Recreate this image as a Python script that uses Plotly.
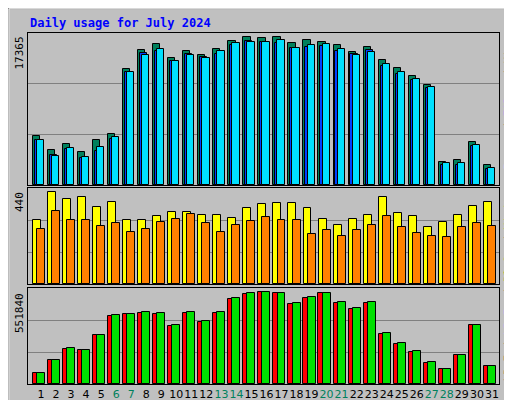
import plotly.graph_objects as go

days = list(range(1, 32))
day_labels = [str(d) for d in days]
weekend = [6, 7, 13, 14, 20, 21, 27, 28]

hits = [5648, 4045, 4732, 3816, 5190, 5877, 13203, 15378, 16065, 14463, 15264, 14806, 15493, 16409, 16867, 16752,
        16867, 16180, 16523, 16294, 15951, 15150, 15722, 14234, 13318, 12402, 11372, 2671, 2900, 4961, 2328]
files = [5190, 3358, 4274, 3244, 4388, 5533, 12860, 14806, 15493, 14119, 14806, 14463, 15264, 16180, 16294, 16294,
         16523, 15607, 15951, 16065, 15493, 14806, 15150, 13776, 12860, 12059, 11143, 2557, 2557, 4617, 1984]
pages = [5190, 3473, 4159, 3129, 3930, 5304, 12860, 15035, 15264, 14119, 14921, 14577, 14921, 15951, 16409, 16294,
         16180, 15607, 15722, 15836, 15264, 14921, 15378, 13547, 12631, 11944, 11028, 2328, 2328, 4503, 1870]
visits = [292, 420, 388, 397, 351, 374, 292, 292, 310, 329, 329, 315, 315, 301, 347, 365,
          370, 370, 347, 296, 269, 296, 315, 397, 324, 310, 260, 283, 315, 356, 374]
sites = [251, 333, 292, 292, 264, 278, 237, 251, 283, 296, 319, 278, 237, 269, 287, 306,
         292, 292, 228, 246, 219, 246, 269, 310, 260, 232, 219, 214, 260, 278, 264]
kb_f = [65603, 140854, 198739, 192950, 279778, 389759, 401336, 407125, 401336, 331874, 407125, 355028, 407125,
        488164, 517106, 528683, 522895, 459221, 493952, 522895, 465010, 430279, 465010, 285566, 227681, 181373,
        123488, 88757, 164008, 337663, 106123]
kb_out = [65603, 140854, 204527, 192950, 279778, 395547, 401336, 412913, 407125, 337663, 412913, 360816, 412913,
          493952, 522895, 528683, 522895, 465010, 499741, 522895, 470798, 436067, 470798, 291354, 233469, 187161,
          129276, 88757, 164008, 337663, 106123]
max_top, max_mid, max_bot = 17365, 440, 551840

W = 0.48
fig = go.Figure()
def bars(y, off, color, ax, w=W):
    fig.add_trace(go.Bar(x=[d + off for d in days], y=y, width=w, marker=dict(color=color, line=dict(color='black', width=1)),
                         xaxis='x' + ax, yaxis='y' + ax, showlegend=False))

bars(hits, -0.30, '#00805C', '')
bars(pages, -0.17, '#0040FF', '')
bars(files, -0.03, '#00E0FF', '')
bars(visits, -0.27, '#FFFF00', '2', 0.53)
bars(sites, 0.0, '#FF8000', '2', 0.53)
bars(kb_f, -0.30, '#FF0000', '3')
bars(kb_out, 0.0, '#00E000', '3', 0.53)

xr = [0.135, 31.47]
ticktext = [f'<span style="color:#00805C">{l}</span>' if d in weekend else l for d, l in zip(days, day_labels)]
def yax(dom, m):
    return dict(domain=dom, range=[0, m], tickvals=[m / 3, 2 * m / 3], showticklabels=False, ticks='',
                showgrid=True, gridcolor='#808080', gridwidth=1, zeroline=False,
                showline=True, linecolor='black', linewidth=1, mirror=True, fixedrange=True)
def xax(anchor, show):
    return dict(domain=[20 / 512, 491 / 512], range=xr, anchor=anchor, showgrid=False, zeroline=False,
                showline=True, linecolor='black', linewidth=1, mirror=True, tickvals=days, ticktext=ticktext,
                showticklabels=show, ticks='', tickangle=0, automargin=False,
                tickfont=dict(size=11, color='black', family='DejaVu Sans'))

fig.update_layout(
    width=512, height=400, margin=dict(l=0, r=0, t=0, b=0, autoexpand=False),
    paper_bgcolor='#C0C0C0', plot_bgcolor='#C0C0C0', barmode='overlay', bargap=0,
    font=dict(family='DejaVu Sans Mono', size=11),
    xaxis=xax('y', False), yaxis=yax([1 - 177 / 400, 1 - 25 / 400], max_top),
    xaxis2=xax('y2', False), yaxis2=yax([1 - 276 / 400, 1 - 180 / 400], max_mid),
    xaxis3=xax('y3', True), yaxis3=yax([1 - 376 / 400, 1 - 280 / 400], max_bot),
)

P = dict(xref='paper', yref='paper', showarrow=False)
ann = [dict(text='<b>Daily usage for July 2024</b>', x=20 / 512, y=1 - 15 / 400, xanchor='left', yanchor='middle',
            font=dict(color='#0000FF', size=12, family='DejaVu Sans Mono'), **P)]
for lbl, top in [(str(max_top), 27), (str(max_mid), 182), (str(max_bot), 283)]:
    ann.append(dict(text=lbl, textangle=-90, x=11 / 512, y=1 - top / 400, xanchor='center', yanchor='top',
                    font=dict(color='black', size=11), **P))
ann.append(dict(text='<span style="color:#00C0FF">Pages</span> / <span style="color:#0040FF">Files</span> / '
                     '<span style="color:#00805C">Hits</span>', textangle=-90, x=500 / 512, y=1 - 27 / 400,
                xanchor='center', yanchor='top', font=dict(color='black', size=11), **P))
ann.append(dict(text='<span style="color:#FF8000">Sites</span> / <span style="color:#FFFF00">Visits</span>',
                textangle=-90, x=500 / 512, y=1 - 180 / 400, xanchor='center', yanchor='top',
                font=dict(color='black', size=11), **P))
ann.append(dict(text='<span style="color:#FF0000">kB F</span> / <span style="color:#0080FF">kB In</span> / '
                     '<span style="color:#00E000">kB Out</span>', textangle=-90, x=500 / 512, y=1 - 376 / 400,
                xanchor='center', yanchor='bottom', font=dict(color='black', size=11), **P))
fig.update_layout(annotations=ann)
fig.add_shape(type='rect', xref='paper', yref='paper', x0=0, y0=0, x1=1, y1=1,
              line=dict(color='#808080', width=3))
fig.add_shape(type='rect', xref='paper', yref='paper', x0=0.002, y0=0.002, x1=0.998, y1=0.998,
              line=dict(color='white', width=1))
fig.write_html('out.html')
